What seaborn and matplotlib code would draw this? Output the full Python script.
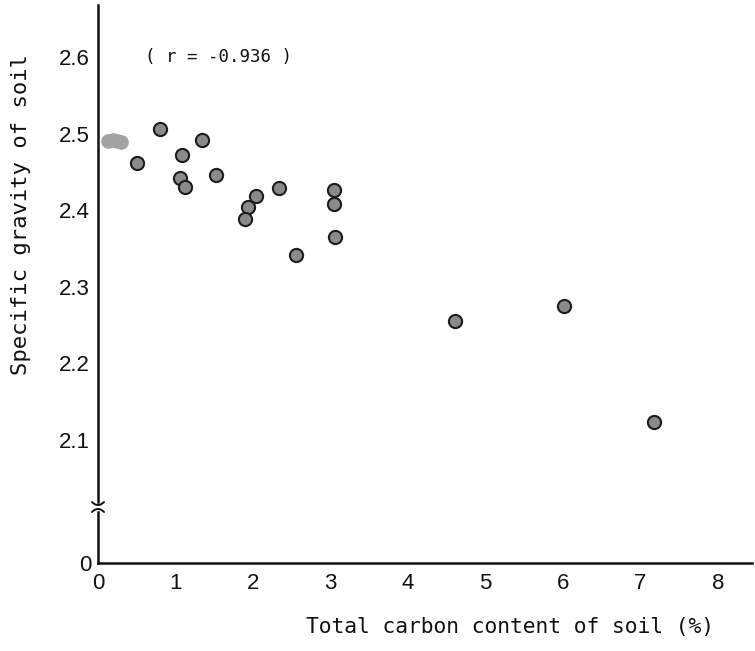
import matplotlib
matplotlib.use("Agg")
import matplotlib.pyplot as plt
import seaborn as sns
import pandas as pd
import numpy as np

# ---- data ----
carbon = [0.80, 1.34, 0.50, 1.09, 1.06, 1.12, 1.52, 2.04, 1.94, 1.90, 2.33,
          3.05, 3.05, 3.06, 2.55, 4.61, 6.01, 7.17]
gravity = [2.506, 2.492, 2.462, 2.473, 2.4425, 2.431, 2.446, 2.419, 2.404, 2.3885,
           2.4295, 2.427, 2.409, 2.366, 2.342, 2.256, 2.275, 2.123]
# overlapping points near zero carbon (printed as a grey smear)
carbon_low = [0.13, 0.19, 0.25, 0.30]
gravity_low = [2.491, 2.492, 2.491, 2.490]

y_ticks = [2.1, 2.2, 2.3, 2.4, 2.5, 2.6]
x_ticks = [0, 1, 2, 3, 4, 5, 6, 7, 8]
r_text = "( r = -0.936 )"
x_label = "Total carbon content of soil (%)"
y_label = "Specific gravity of soil"

df = pd.DataFrame({"carbon": carbon, "gravity": gravity})
df_low = pd.DataFrame({"carbon": carbon_low, "gravity": gravity_low})

sns.set_style("white")
plt.rcParams["font.family"] = ["Liberation Sans", "DejaVu Sans"]

W, H = 755, 651
fig = plt.figure(figsize=(W / 100, H / 100), dpi=100)

def fx(px):
    return px / W

def fy(py):
    return 1 - py / H

left_px, right_px = 98, 752
top_px, brk_top_px = 5, 502
brk_bot_px, axis_px = 512, 563

ax = fig.add_axes([fx(left_px), fy(brk_top_px), fx(right_px - left_px),
                   (brk_top_px - top_px) / H])
axb = fig.add_axes([fx(left_px), fy(axis_px), fx(right_px - left_px),
                    (axis_px - brk_bot_px) / H])

xlim = (0, (right_px - left_px) / 77.5)
# y mapping: 2.5 at 134 px, 765 px per unit
ytop = 2.5 + (134 - top_px) / 765
ybot = 2.5 - (brk_top_px - 134) / 765

sns.scatterplot(data=df_low, x="carbon", y="gravity", ax=ax, s=90,
                color="#a3a3a3", edgecolor="#a3a3a3", linewidth=1.0, zorder=3,
                clip_on=False)
sns.scatterplot(data=df, x="carbon", y="gravity", ax=ax, s=90,
                color="#8a8a8a", edgecolor="#1c1c1c", linewidth=1.5, zorder=4)

ax.set_xlim(*xlim)
ax.set_ylim(ybot, ytop)
axb.set_xlim(*xlim)
axb.set_ylim(0, 1)

for a in (ax, axb):
    for s in ("top", "right"):
        a.spines[s].set_visible(False)
    a.spines["left"].set_linewidth(1.8)
    a.spines["left"].set_color("#111111")
ax.spines["bottom"].set_visible(False)
axb.spines["bottom"].set_linewidth(1.8)
axb.spines["bottom"].set_color("#111111")

ax.set_yticks(y_ticks)
ax.set_yticklabels([f"{v:.1f}" for v in y_ticks])
ax.set_xticks([])
ax.tick_params(axis="y", direction="in", length=6, width=1.2, labelsize=16,
               pad=6, colors="#111111")

axb.set_yticks([0])
axb.set_yticklabels(["0"])
axb.set_xticks(x_ticks)
axb.set_xticklabels([str(v) for v in x_ticks])
axb.tick_params(axis="y", direction="in", length=0, labelsize=16, pad=5,
                colors="#111111")
axb.tick_params(axis="x", direction="in", length=3, width=1.0, labelsize=16,
                pad=7, colors="#111111")

ax.set_xlabel("")
ax.set_ylabel("")
axb.set_xlabel("")
axb.set_ylabel("")

# axis-break marks
bx = fx(left_px)
t = np.linspace(-1, 1, 40)
fig.add_artist(plt.Line2D(bx + t * 6 / W, fy(brk_top_px) + (t ** 2 - 1) * 3 / H,
                          color="#111111", lw=1.4))
fig.add_artist(plt.Line2D(bx + t * 6 / W, fy(brk_bot_px) + (1 - t ** 2) * 3 / H,
                          color="#111111", lw=1.4))

mono = "DejaVu Sans Mono"
ax.text(1.56, 2.6, r_text, family=mono, fontsize=12.5, ha="center", va="center",
        color="#111111")
fig.text(fx(714), fy(627), x_label, family=mono, fontsize=15.3, ha="right",
         va="center", color="#111111")
fig.text(fx(21), fy(214), y_label, family=mono, fontsize=16, ha="center",
         va="center", rotation=90, color="#111111")

fig.savefig("out.png", dpi=100, facecolor="white")
